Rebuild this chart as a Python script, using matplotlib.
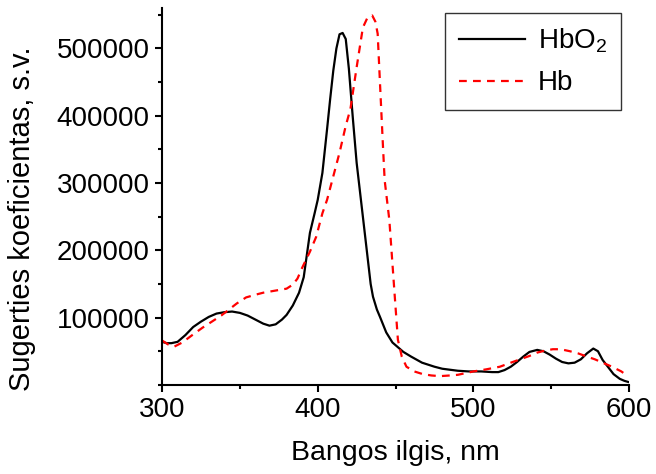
import matplotlib
matplotlib.use("Agg")
import matplotlib.pyplot as plt
from matplotlib.ticker import MultipleLocator

plt.rcParams['font.family'] = ['Liberation Sans', 'DejaVu Sans']
plt.rcParams['mathtext.default'] = 'regular'

# HbO2 spectrum (wavelength nm, coefficient)
hbo2_x = [300, 303, 306, 310, 315, 320, 325, 330, 335, 340, 345, 350, 355, 360,
          365, 369, 373, 377, 380, 384, 388, 391, 395, 398, 400, 403, 406, 408,
          410, 412, 414, 416, 418, 420, 422.5, 425, 427, 430, 432, 434, 435.5,
          438, 440, 444, 448, 452, 455, 460, 467, 475, 480, 490, 497, 505, 512,
          516, 520, 524, 528, 532, 536, 541, 545, 549, 553, 557, 561, 565, 569,
          573, 577, 580, 583, 587, 590, 594, 597, 600]
hbo2_y = [64000, 62000, 62000, 64000, 74000, 86000, 94000, 101000, 106000, 108000, 109000, 107000,
          103000, 97000, 91000, 88000, 90000, 97000, 104000, 118000, 137000, 160000, 226000, 255000,
          275000, 315000, 380000, 425000, 467000, 500000, 521000, 523000, 514000, 470000, 398000,
          330000, 290000, 230000, 190000, 150000, 131000, 112000, 101000, 78000, 63000, 55000, 49000,
          42000, 33000, 27000, 24000, 21000, 20000, 20000, 19000, 19000, 22000, 27000, 34000, 42000,
          49000, 52000, 50000, 45000, 39000, 34000, 32000, 33000, 38000, 47000, 54000, 50000, 37000,
          25000, 16000, 9000, 6000, 4000]

# Hb spectrum
hb_x = [300, 304, 308, 313, 320, 326, 332, 338, 343, 348, 354, 360, 365, 370, 375,
        380, 384, 387, 390, 395, 399, 403, 406, 410, 414, 418, 421, 425, 429, 432,
        435, 437, 438.5, 440, 442, 443, 446, 449.5, 451.5, 454, 457, 462, 467.5,
        473, 478.5, 485, 490, 496, 500, 508, 517, 524, 530, 536, 541, 546, 551,
        556, 562, 567, 573, 578, 583, 589, 595, 598]
hb_y = [66000, 60000, 57000, 63000, 75000, 85000, 94000, 103000, 112000, 121000, 130000, 134000,
        137000, 139000, 141000, 143000, 149000, 158000, 174000, 198000, 220000, 255000, 275000,
        310000, 345000, 385000, 410000, 472000, 531000, 546000, 549000, 540000, 522000, 448000,
        350000, 304000, 245000, 131000, 67000, 42000, 27000, 20000, 16000, 14000, 13000, 14000,
        15000, 18000, 20000, 23000, 27000, 33000, 38000, 43000, 48000, 51000, 53000, 53000, 50000,
        47000, 42000, 38000, 33000, 27000, 20000, 15000]

fig = plt.figure(figsize=(6.56, 4.74), dpi=100)
ax = fig.add_axes([0.247, 0.188, 0.712, 0.795])

ax.plot(hbo2_x, hbo2_y, color='black', lw=1.6, label='HbO$_2$')
ax.plot(hb_x, hb_y, color='red', lw=1.6, linestyle=(0, (3.5, 2.8)), label='Hb')

ax.set_xlim(300, 600)
ax.set_ylim(0, 560000)
ax.xaxis.set_major_locator(MultipleLocator(100))
ax.xaxis.set_minor_locator(MultipleLocator(50))
ax.yaxis.set_minor_locator(MultipleLocator(50000))
ax.set_yticks([100000, 200000, 300000, 400000, 500000])

for s in ['top', 'right']:
    ax.spines[s].set_visible(False)
for s in ['left', 'bottom']:
    ax.spines[s].set_linewidth(1.5)

fs = 20
ax.tick_params(which='major', direction='out', length=5, width=1.5, labelsize=fs, pad=4)
ax.tick_params(which='minor', direction='out', length=3, width=1.5)

ax.set_xlabel('Bangos ilgis, nm', fontsize=20.5, labelpad=12)
ax.set_ylabel('Sugerties koeficientas, s.v.', fontsize=21)
ax.yaxis.set_label_coords(-0.27, 0.44)

leg = ax.legend(loc='upper right', bbox_to_anchor=(1.0, 1.01), fontsize=fs, frameon=True,
                fancybox=False, edgecolor='#333333', framealpha=1, handlelength=2.4,
                handletextpad=0.45, borderpad=0.5, labelspacing=0.55, borderaxespad=0.3)
leg.get_frame().set_linewidth(1.0)

fig.savefig('out.png', dpi=100)
